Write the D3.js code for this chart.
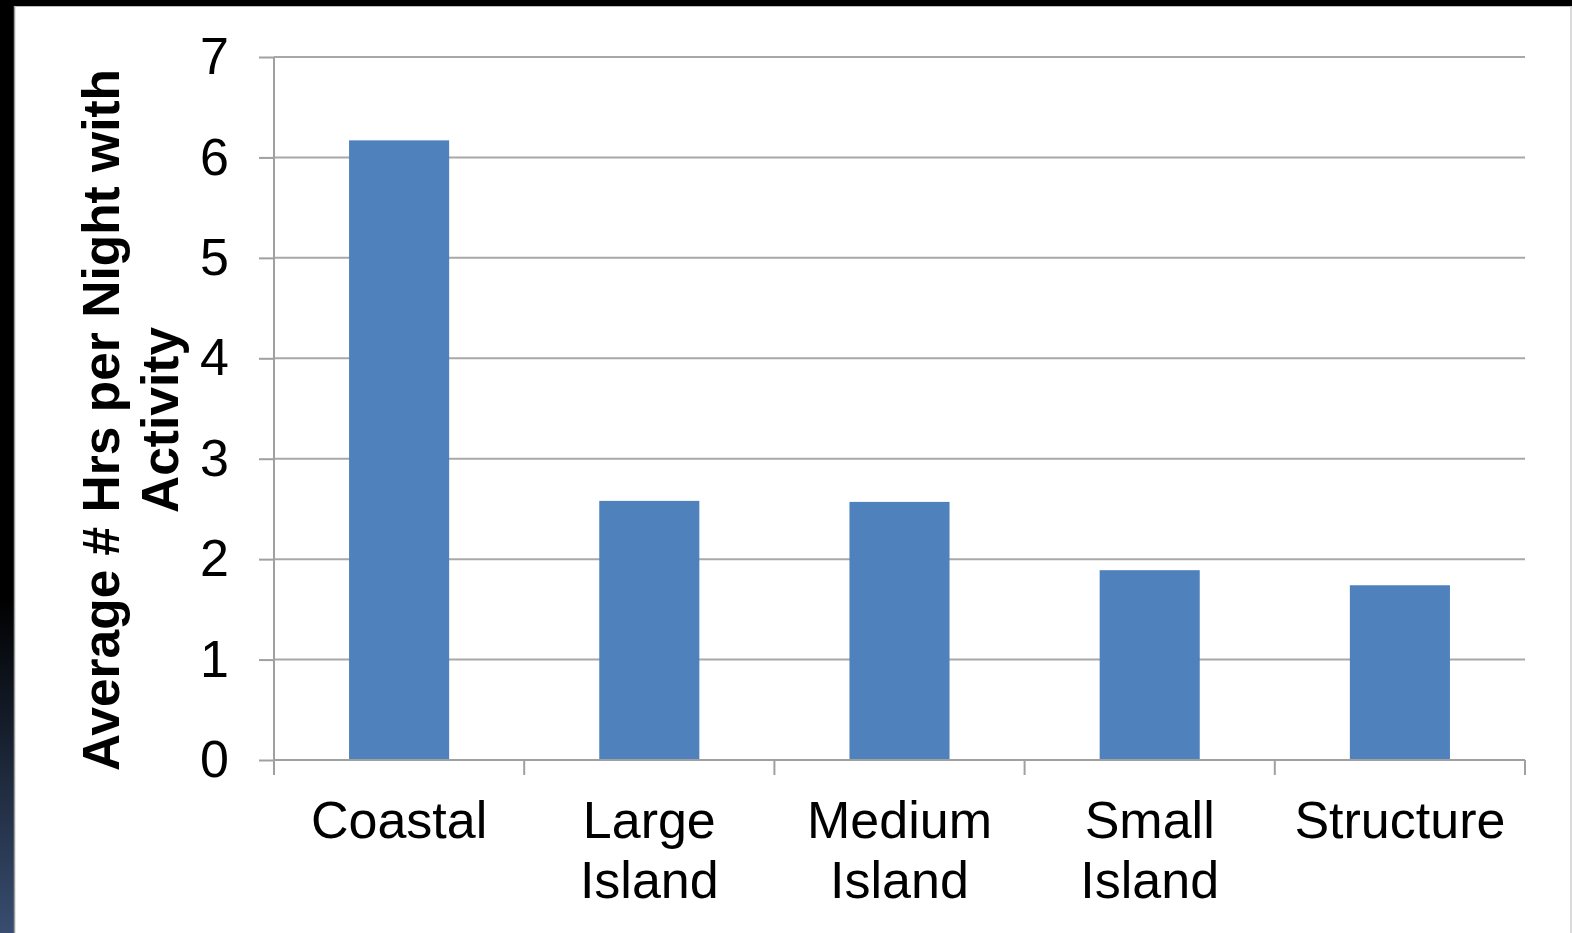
<!DOCTYPE html>
<html>
<head>
<meta charset="utf-8">
<script src="https://cdn.jsdelivr.net/npm/d3@7"></script>
<style>
  html, body { margin: 0; padding: 0; background: #000; }
  svg { display: block; }
</style>
</head>
<body>
<script>
// Average hours per night with activity, by site type
const categories = [["Coastal"], ["Large", "Island"], ["Medium", "Island"], ["Small", "Island"], ["Structure"]];
const values = [6.17, 2.58, 2.57, 1.89, 1.74];
const yTicks = [0, 1, 2, 3, 4, 5, 6, 7];
const yTitle = ["Average # Hrs per Night with", "Activity"];

const W = 1572, H = 933;
const svg = d3.select("body").append("svg").attr("width", W).attr("height", H);

// slide frame: black edge fading to navy on the left
const defs = svg.append("defs");
const grad = defs.append("linearGradient").attr("id", "frameGrad")
  .attr("x1", 0).attr("y1", 0).attr("x2", 0).attr("y2", 1);
grad.append("stop").attr("offset", "0%").attr("stop-color", "#000");
grad.append("stop").attr("offset", "64%").attr("stop-color", "#000");
grad.append("stop").attr("offset", "100%").attr("stop-color", "#384d70");
svg.append("rect").attr("width", W).attr("height", H).attr("fill", "#000");
svg.append("rect").attr("x", 0).attr("y", 0).attr("width", 14).attr("height", H).attr("fill", "url(#frameGrad)");
svg.append("rect").attr("x", 14).attr("y", 6).attr("width", W - 14).attr("height", H - 6).attr("fill", "#fff");
svg.append("line").attr("x1", 14.5).attr("x2", 14.5).attr("y1", 6).attr("y2", H)
  .attr("stroke", "#9a9a9a").attr("stroke-width", 1.5);
svg.append("line").attr("x1", 14).attr("x2", W).attr("y1", 6.5).attr("y2", 6.5)
  .attr("stroke", "#bdbdbd").attr("stroke-width", 1);
svg.append("line").attr("x1", W - 1).attr("x2", W - 1).attr("y1", 6).attr("y2", H)
  .attr("stroke", "#cfcfcf").attr("stroke-width", 1.5);

const plot = { left: 274, right: 1525, top: 57, bottom: 760 };

const x = d3.scaleBand().domain(d3.range(categories.length))
  .range([plot.left, plot.right]).padding(0);
const y = d3.scaleLinear().domain([0, 7]).range([plot.bottom, plot.top]);

const font = "'Liberation Sans', Arial, sans-serif";

// horizontal gridlines
svg.append("g").selectAll("line").data(yTicks.filter(d => d > 0)).join("line")
  .attr("x1", plot.left).attr("x2", plot.right)
  .attr("y1", d => y(d)).attr("y2", d => y(d))
  .attr("stroke", "#a8a8a8").attr("stroke-width", 2);

// bars
const barW = x.bandwidth() * 0.4;
svg.append("g").selectAll("rect").data(values).join("rect")
  .attr("x", (d, i) => x(i) + (x.bandwidth() - barW) / 2)
  .attr("width", barW)
  .attr("y", d => y(d))
  .attr("height", d => y(0) - y(d))
  .attr("fill", "#4f81bd");

// y axis
const yAxis = d3.axisLeft(y).tickValues(yTicks).tickSize(15).tickPadding(30).tickFormat(d3.format("d"));
const gy = svg.append("g").attr("transform", `translate(${plot.left},0)`).call(yAxis);
gy.select(".domain").attr("stroke", "#a0a0a0").attr("stroke-width", 2)
  .attr("d", `M0,${plot.top}V${plot.bottom + 15}`);
gy.selectAll(".tick line").attr("stroke", "#a0a0a0").attr("stroke-width", 2);
gy.selectAll(".tick text").attr("font-family", font).attr("font-size", 52).attr("fill", "#000");

// x axis baseline and category boundary ticks
svg.append("line").attr("x1", plot.left).attr("x2", plot.right)
  .attr("y1", y(0)).attr("y2", y(0)).attr("stroke", "#a0a0a0").attr("stroke-width", 2);
const bounds = d3.range(categories.length + 1).map(i => plot.left + i * x.step());
svg.append("g").selectAll("line").data(bounds).join("line")
  .attr("x1", d => d).attr("x2", d => d)
  .attr("y1", y(0)).attr("y2", y(0) + 15)
  .attr("stroke", "#a0a0a0").attr("stroke-width", 2);

// category labels
const lab = svg.append("g").selectAll("text").data(categories).join("text")
  .attr("font-family", font).attr("font-size", 52).attr("fill", "#000")
  .attr("text-anchor", "middle")
  .attr("x", (d, i) => x(i) + x.bandwidth() / 2)
  .attr("y", 838);
lab.selectAll("tspan").data(d => d).join("tspan")
  .attr("x", function() { return this.parentNode.getAttribute("x"); })
  .attr("dy", (d, i) => i === 0 ? 0 : 60)
  .text(d => d);

// y title
const title = svg.append("text")
  .attr("transform", "translate(119,420) rotate(-90)")
  .attr("font-family", font).attr("font-size", 51.5).attr("font-weight", "bold")
  .attr("text-anchor", "middle").attr("fill", "#000");
title.selectAll("tspan").data(yTitle).join("tspan")
  .attr("x", 0).attr("y", (d, i) => i * 59)
  .text(d => d);
</script>
</body>
</html>
